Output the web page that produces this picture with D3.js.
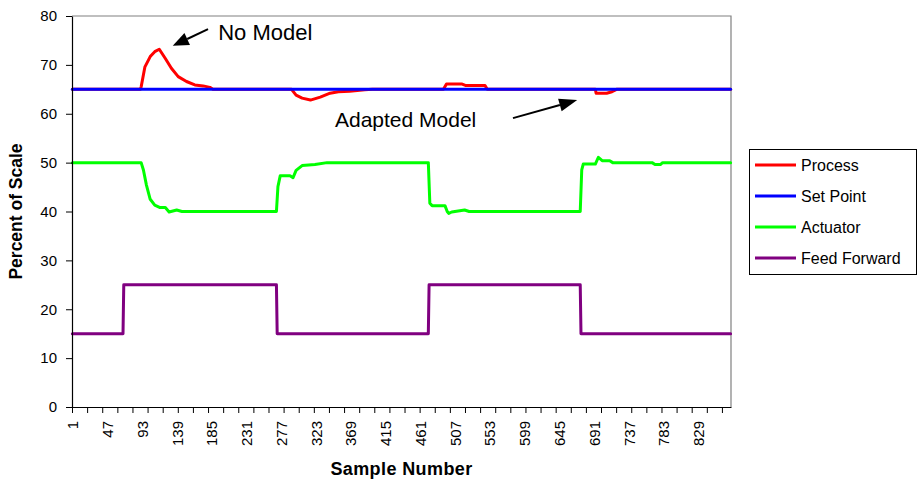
<!DOCTYPE html>
<html>
<head>
<meta charset="utf-8">
<script src="https://cdn.jsdelivr.net/npm/d3@7"></script>
<style>
  html, body { margin: 0; padding: 0; background: #fff; }
  svg { display: block; font-family: "Liberation Sans", Arial, sans-serif; }
</style>
</head>
<body>
<svg id="chart" width="918" height="480"></svg>
<script>
// ---- data (sample number, percent of scale) ----
const sampleCount = 872;
const xTickLabels = [1, 47, 93, 139, 185, 231, 277, 323, 369, 415, 461, 507, 553, 599, 645, 691, 737, 783, 829];
const yTickValues = [0, 10, 20, 30, 40, 50, 60, 70, 80];
const seriesNames = ["Process", "Set Point", "Actuator", "Feed Forward"];
const seriesColors = ["#FF0000", "#0000FF", "#00FF00", "#800080"];

const processData = [
  [1, 65], [91, 65], [92, 65.5], [97, 69.6], [104, 71.7], [110, 72.7], [116, 73.2],
  [124, 71.3], [132, 69.3], [141, 67.6], [152, 66.6], [163, 65.9], [174, 65.7],
  [183, 65.4], [187, 65], [291, 65], [297, 63.8], [305, 63.2], [316, 62.8],
  [329, 63.4], [342, 64.2], [353, 64.5], [368, 64.6], [388, 64.9], [398, 65],
  [492, 65], [496, 66.1], [516, 66.1], [521, 65.8], [547, 65.8], [550, 65],
  [693, 65], [694, 64.2], [708, 64.2], [715, 64.5], [721, 65], [872, 65]
];
const setPointData = [[1, 65], [872, 65]];
const actuatorData = [
  [1, 50], [92, 50], [95, 48.5], [99, 45.4], [104, 42.5], [110, 41.3], [117, 40.8],
  [124, 40.8], [129, 39.9], [139, 40.3], [146, 40], [271, 40], [273, 45.1],
  [276, 47.3], [289, 47.3], [293, 46.9], [297, 48.4], [305, 49.4], [322, 49.6],
  [338, 50], [472, 50], [474, 41.7], [477, 41.2], [494, 41.2], [497, 40],
  [499, 39.6], [503, 39.9], [520, 40.3], [526, 40], [673, 40], [675, 48.5],
  [677, 49.7], [693, 49.7], [697, 51.1], [702, 50.4], [712, 50.4], [716, 50],
  [768, 50], [772, 49.6], [779, 49.6], [782, 50], [872, 50]
];
const feedForwardData = [
  [1, 15], [68, 15], [69, 25], [271, 25], [272, 15], [472, 15], [473, 25],
  [673, 25], [674, 15], [872, 15]
];
const seriesData = [processData, setPointData, actuatorData, feedForwardData];

(function () {
// ---- layout ----
const svg = d3.select("#chart");
const mLeft = 72, mRight = 731, mTop = 16, mBottom = 407;

const x = d3.scaleLinear().domain([0.5, sampleCount + 0.5]).range([mLeft, mRight]);
const y = d3.scaleLinear().domain([0, 80]).range([mBottom, mTop]);

// plot border (top/right grey)
svg.append("path")
  .attr("d", `M${mLeft},${mTop}H${mRight}V${mBottom}`)
  .attr("fill", "none").attr("stroke", "#808080").attr("stroke-width", 1.2);

// series
const line = d3.line().x(d => x(d[0])).y(d => y(d[1])).curve(d3.curveLinear);
seriesData.forEach((data, i) => {
  svg.append("path")
    .datum(data)
    .attr("d", line)
    .attr("fill", "none")
    .attr("stroke", seriesColors[i])
    .attr("stroke-width", 3)
    .attr("stroke-linejoin", "round")
    .attr("stroke-linecap", "round");
});

// y axis
const yAxis = svg.append("g")
  .attr("transform", `translate(${mLeft},0)`)
  .call(d3.axisLeft(y).tickValues(yTickValues).tickSize(6).tickSizeOuter(0).tickPadding(9));
yAxis.selectAll("text").attr("font-size", 15).attr("fill", "#000")
  .attr("font-family", '"Liberation Sans", Arial, sans-serif');
yAxis.selectAll("line").attr("stroke", "#000");
yAxis.select(".domain").attr("stroke", "#000").attr("stroke-width", 1.2);

// x axis tick marks (every 20 samples, between categories)
const xAxisTicks = svg.append("g")
  .attr("transform", `translate(0,${mBottom})`)
  .call(d3.axisBottom(x).tickValues(d3.range(0.5, sampleCount + 1, 20)).tickSize(6).tickSizeOuter(0).tickFormat(""));
xAxisTicks.selectAll("line").attr("stroke", "#000");
xAxisTicks.select(".domain").attr("stroke", "#000").attr("stroke-width", 1.2);

// x axis labels (every 46 samples)
const xAxisLabels = svg.append("g")
  .attr("transform", `translate(0,${mBottom})`)
  .call(d3.axisBottom(x).tickValues(xTickLabels).tickSize(0).tickFormat(d3.format("d")));
xAxisLabels.select(".domain").remove();
xAxisLabels.selectAll("text")
  .attr("font-size", 15).attr("fill", "#000")
  .attr("font-family", '"Liberation Sans", Arial, sans-serif')
  .attr("transform", "rotate(-90)")
  .attr("text-anchor", "end")
  .attr("x", -14).attr("y", 0).attr("dy", "0.36em");

// axis titles
svg.append("text")
  .attr("transform", `translate(22,${(mTop + mBottom) / 2}) rotate(-90)`)
  .attr("text-anchor", "middle")
  .attr("font-size", 17.5).attr("font-weight", "bold")
  .text("Percent of Scale");
svg.append("text")
  .attr("x", (mLeft + mRight) / 2).attr("y", 475)
  .attr("text-anchor", "middle")
  .attr("font-size", 18).attr("font-weight", "bold")
  .attr("letter-spacing", 0.4)
  .text("Sample Number");

// annotations
function arrow(x1, y1, x2, y2, headLen, headW) {
  const ang = Math.atan2(y2 - y1, x2 - x1);
  const bx = x2 - headLen * Math.cos(ang), by = y2 - headLen * Math.sin(ang);
  svg.append("line").attr("x1", x1).attr("y1", y1).attr("x2", bx).attr("y2", by)
    .attr("stroke", "#000").attr("stroke-width", 2);
  const px = -Math.sin(ang) * headW / 2, py = Math.cos(ang) * headW / 2;
  svg.append("path")
    .attr("d", `M${x2},${y2}L${bx + px},${by + py}L${bx - px},${by - py}Z`)
    .attr("fill", "#000");
}
svg.append("text").attr("x", x(194)).attr("y", y(75.1))
  .attr("font-size", 22).text("No Model");
arrow(x(180.5), y(77.3), x(133.8), y(73.9), 16, 13);

svg.append("text").attr("x", x(348.5)).attr("y", y(57.35))
  .attr("font-size", 21).text("Adapted Model");
arrow(x(584), y(59.1), x(669), y(62.8), 18, 13);

// legend
const legend = svg.append("g");
legend.append("rect")
  .attr("x", 749.5).attr("y", 149.5).attr("width", 167).attr("height", 125)
  .attr("fill", "#fff").attr("stroke", "#000").attr("stroke-width", 1);
seriesNames.forEach((name, i) => {
  const ly = 165 + i * 31;
  legend.append("line").attr("x1", 755).attr("x2", 796).attr("y1", ly).attr("y2", ly)
    .attr("stroke", seriesColors[i]).attr("stroke-width", 3);
  legend.append("text").attr("x", 801).attr("y", ly).attr("dy", "0.36em")
    .attr("font-size", 16).text(name);
});
})();
</script>
</body>
</html>
